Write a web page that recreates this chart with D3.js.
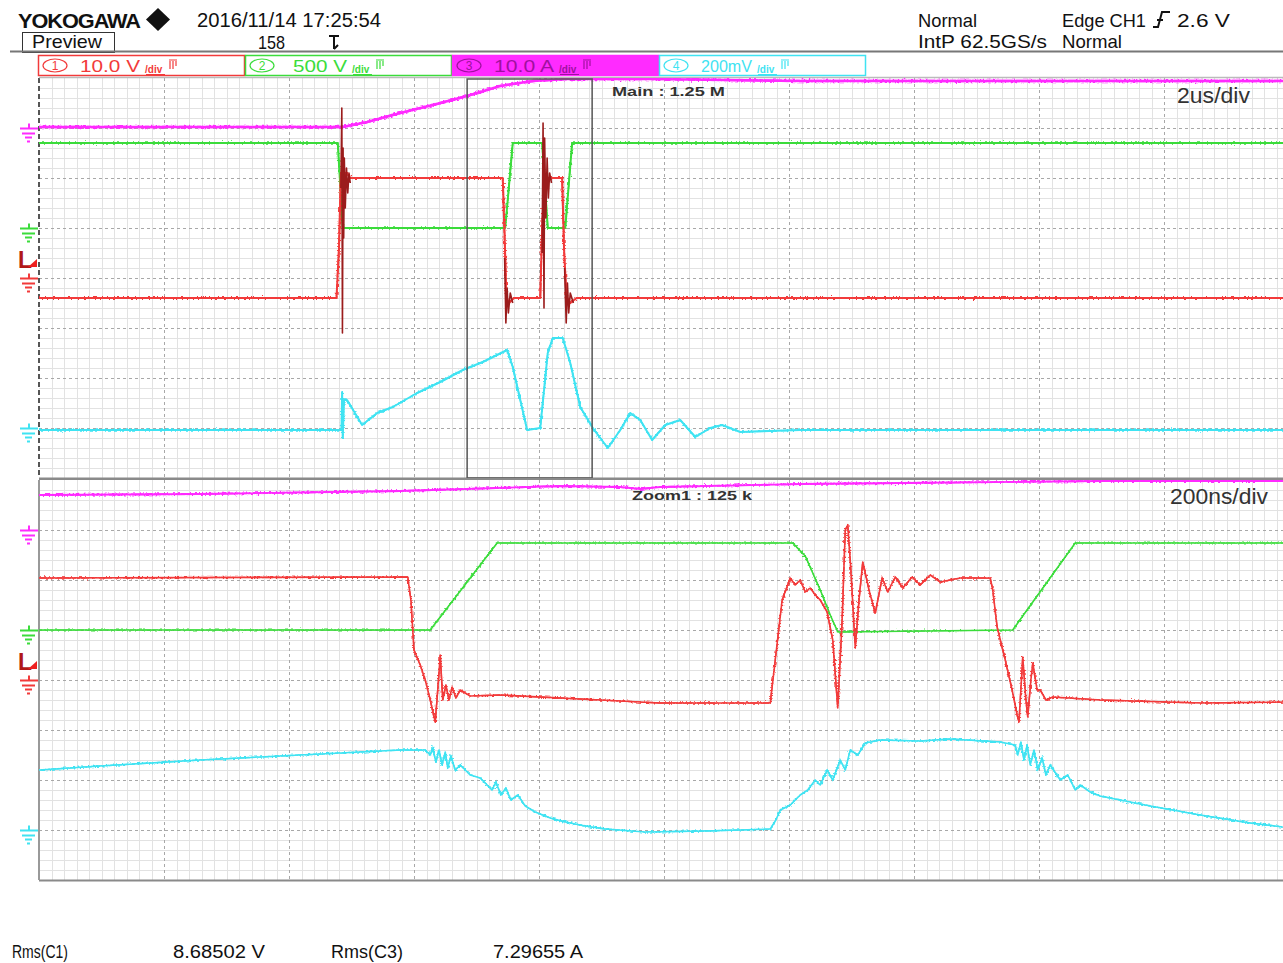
<!DOCTYPE html>
<html>
<head>
<meta charset="utf-8">
<script src="https://cdn.jsdelivr.net/npm/d3@7"></script>
<style>
  body { margin: 0; background: #fff; }
  svg { display: block; }
  text { font-family: "Liberation Sans Narrow", "Liberation Sans", Arial, sans-serif; }
</style>
</head>
<body>
<svg id="scope" width="1283" height="963"></svg>
<script>
// ---- channel setup ----
const channelIds     = ["1", "2", "3", "4"];
const channelScales  = ["10.0 V", "500 V", "10.0 A", "200mV"];
const channelPerDiv  = [10, 500, 10, 200];      // V, V, A, mV per division
const channelGround  = [0, 1, 3, -3];           // ground level, divisions above screen centre
const channelColors  = ["#f23a3a", "#3bdc3b", "#ff2bff", "#3fe3f2"];
const ringColor      = "#9b1c1c";
const triggerLevel   = 2.6;                     // V on CH1

// ---- main window (µs, 2 µs/div) ----
const mainTimeDomain = [0, 20];
const zoomStart = 6.85, zoomSpan = 2.0;         // µs

const mainCh1 = [[0,-4],[4.76,-4],[4.80,6],[4.83,21],[4.87,19],[4.92,21],[4.98,20],[7.42,20],[7.45,8],[7.48,-4],
  [7.52,-5],[7.60,-4],[8.02,-4],[8.05,10],[8.09,20],[8.37,20],[8.40,6],[8.44,-4],[8.50,-5],[8.60,-4],[20,-4]];
const mainCh1Ring = [
  [[4.83,18],[4.845,34],[4.855,-11],[4.865,26],[4.875,8],[4.885,24],[4.90,14],[4.92,22],[4.94,17],[4.96,21],[4.98,19]],
  [[7.45,4],[7.47,-9],[7.49,-2],[7.51,-7],[7.54,-3],[7.58,-5]],
  [[8.05,5],[8.065,31],[8.08,-6],[8.09,28],[8.11,12],[8.13,24],[8.15,16],[8.17,21],[8.20,19]],
  [[8.41,2],[8.435,-9],[8.455,-1],[8.475,-7],[8.50,-3],[8.55,-5]]
];
const mainCh2 = [[0,850],[4.78,850],[4.86,0],[7.46,0],[7.58,850],[8.05,850],[8.14,0],[8.42,0],[8.53,850],[20,850]];
const mainCh3 = [[0,0.2],[4.86,0.2],[5.25,1.2],[5.78,3.0],[6.30,4.6],[6.85,6.4],[7.38,8.4],[7.90,9.4],[8.45,9.8],
  [9.78,9.8],[12.2,9.4],[20,9.4]];
const mainCh4 = [[0,-8],[4.82,-8],[4.84,-8],[4.85,144],[4.86,-40],[4.88,112],[4.93,112],[5.17,12],[5.41,60],[5.66,84],
  [6.05,140],[6.42,184],[6.78,232],[7.10,264],[7.49,312],[7.58,244],[7.81,-8],[8.02,0],[8.14,300],[8.22,360],
  [8.38,360],[8.50,260],[8.66,84],[8.86,0],[9.10,-80],[9.30,-8],[9.46,60],[9.62,32],[9.81,-48],[10.02,12],
  [10.26,32],[10.50,-36],[10.74,0],[10.93,12],[11.22,-16],[12.18,-8],[20,-8]];

// ---- zoom window (ns from zoom start, 200 ns/div) ----
const zoomTimeDomain = [0, 2000];

const zoomCh1 = [[0,20.4],[590,20.6],[595,16],[600,6],[610,3],[618,0],[626,-4],[634,-8.4],[638,-2],[642,5],[646,-4],
  [651,-1],[656,-4],[661,-1.4],[667,-3.6],[674,-2],[690,-3.2],[738,-3],[898,-4],[994,-4.6],[1170,-4.6],[1178,4],
  [1189,16],[1202,20.4],[1210,19],[1218,20],[1226,17.6],[1234,18.4],[1242,17],[1250,16],[1261,13.6],[1270,8],
  [1278,-5.6],[1285,12],[1290,30],[1294,31],[1299,22],[1306,6.4],[1312,16],[1318,23.6],[1328,18],[1338,13.4],
  [1349,20.4],[1358,17.6],[1370,20.6],[1382,18.4],[1397,20.6],[1410,19],[1426,21],[1442,19.6],[1474,20.4],
  [1522,20.4],[1526,18],[1533,10.6],[1546,4],[1557,-2],[1565,-7],[1568,-8.4],[1574,4.6],[1579,-4],[1582,-7.4],
  [1587,0],[1590,3.4],[1597,-2],[1602,-2],[1611,-4],[1622,-3.4],[1698,-4],[1858,-4.6],[2000,-4.4]];
const zoomCh2 = [[0,0],[626,0],[733,870],[1206,870],[1226,740],[1250,400],[1266,150],[1278,-20],[1558,0],
  [1658,870],[2000,870]];
const zoomCh3 = [[0,7.0],[258,7.2],[578,7.8],[834,8.8],[930,8.6],[962,8.2],[994,8.6],[1218,9.2],[1378,9.4],
  [1698,9.8],[2000,9.8]];
const zoomCh4 = [[0,240],[98,256],[258,280],[418,300],[578,320],[618,320],[626,300],[630,328],[635,272],[640,320],
  [645,260],[650,312],[654,248],[659,296],[666,240],[674,260],[690,220],[706,208],[725,160],[731,192],[739,140],
  [747,168],[755,120],[766,140],[778,96],[794,72],[818,48],[842,32],[874,16],[906,4],[970,-8],[1066,-4],[1170,4],
  [1179,40],[1186,80],[1202,100],[1218,140],[1230,160],[1242,200],[1250,180],[1261,240],[1270,200],[1282,280],
  [1290,240],[1298,320],[1310,300],[1322,348],[1346,360],[1410,356],[1458,364],[1538,352],[1562,340],[1566,300],
  [1571,352],[1576,280],[1581,340],[1586,260],[1592,320],[1598,240],[1605,288],[1611,220],[1618,260],[1634,200],
  [1646,220],[1658,160],[1666,180],[1682,152],[1698,136],[1738,116],[1778,96],[1858,60],[1938,28],[1990,12]];

// ---- texts ----
const headerLeft  = ["YOKOGAWA", "2016/11/14  17:25:54", "Preview", "158"];
const headerRight = ["Normal", "Edge CH1", "2.6 V", "IntP 62.5GS/s", "Normal"];
const mainLabel = "Main : 1.25 M", mainRate = "2us/div";
const zoomLabel = "Zoom1 : 125 k", zoomRate = "200ns/div";
const measureNames  = ["Rms(C1)", "Rms(C3)"];
const measureValues = ["8.68502 V", "7.29655 A"];

// ---- geometry ----
const gridLeft = 39, divW = 125, divH = 50;
const panels = [
  { top: 78,  label: mainLabel, rate: mainRate, domain: mainTimeDomain },
  { top: 480, label: zoomLabel, rate: zoomRate, domain: zoomTimeDomain }
];
panels.forEach(p => {
  p.x = d3.scaleLinear().domain(p.domain).range([gridLeft, gridLeft + 10 * divW]);
  p.y = channelPerDiv.map((pd, i) =>
    d3.scaleLinear().domain([-(4 + channelGround[i]) * pd, (4 - channelGround[i]) * pd])
      .range([p.top + 8 * divH, p.top]));
});

const svg = d3.select("#scope");
const defs = svg.append("defs");

// acquisition noise texture for the traces
const jitter = defs.append("filter").attr("id", "jitter").attr("filterUnits", "userSpaceOnUse")
  .attr("x", 0).attr("y", 0).attr("width", 1283).attr("height", 963);
jitter.append("feTurbulence").attr("type", "fractalNoise").attr("baseFrequency", "0.45 0.6")
  .attr("numOctaves", 2).attr("seed", 4).attr("result", "noise");
jitter.append("feDisplacementMap").attr("in", "SourceGraphic").attr("in2", "noise")
  .attr("scale", 5).attr("xChannelSelector", "R").attr("yChannelSelector", "G");

// ---- header ----
const hdr = svg.append("g").attr("fill", "#111");
hdr.append("text").attr("x", 18).attr("y", 28).attr("font-size", 21).attr("font-weight", "bold")
  .attr("textLength", 122).attr("lengthAdjust", "spacingAndGlyphs").attr("letter-spacing", -1).text(headerLeft[0]);
hdr.append("path").attr("d", "M158,8 L170,19.5 L158,31 L146,19.5 Z");
hdr.append("text").attr("x", 197).attr("y", 27).attr("font-size", 20)
  .attr("textLength", 184).attr("lengthAdjust", "spacingAndGlyphs").text(headerLeft[1]);
hdr.append("rect").attr("x", 22.5).attr("y", 32.5).attr("width", 92).attr("height", 20)
  .attr("fill", "none").attr("stroke", "#333").attr("stroke-width", 1);
hdr.append("text").attr("x", 32).attr("y", 48).attr("font-size", 19)
  .attr("textLength", 70).attr("lengthAdjust", "spacingAndGlyphs").text(headerLeft[2]);
hdr.append("text").attr("x", 258).attr("y", 49).attr("font-size", 19)
  .attr("textLength", 27).attr("lengthAdjust", "spacingAndGlyphs").text(headerLeft[3]);
hdr.append("path").attr("d", "M329,36 H339 M334,36 V49 M334,49 L338,45")
  .attr("stroke", "#111").attr("stroke-width", 2).attr("fill", "none");

hdr.append("text").attr("x", 918).attr("y", 27).attr("font-size", 19)
  .attr("textLength", 59).attr("lengthAdjust", "spacingAndGlyphs").text(headerRight[0]);
hdr.append("text").attr("x", 1062).attr("y", 27).attr("font-size", 19)
  .attr("textLength", 84).attr("lengthAdjust", "spacingAndGlyphs").text(headerRight[1]);
hdr.append("path").attr("d", "M1153,27 H1158 L1162,12 H1170 M1157,20 H1163")
  .attr("stroke", "#111").attr("stroke-width", 2).attr("fill", "none");
hdr.append("text").attr("x", 1177).attr("y", 27).attr("font-size", 19)
  .attr("textLength", 53).attr("lengthAdjust", "spacingAndGlyphs").text(headerRight[2]);
hdr.append("text").attr("x", 918).attr("y", 48).attr("font-size", 19)
  .attr("textLength", 129).attr("lengthAdjust", "spacingAndGlyphs").text(headerRight[3]);
hdr.append("text").attr("x", 1062).attr("y", 48).attr("font-size", 19)
  .attr("textLength", 60).attr("lengthAdjust", "spacingAndGlyphs").text(headerRight[4]);

svg.append("line").attr("x1", 10).attr("x2", 1283).attr("y1", 51.5).attr("y2", 51.5)
  .attr("stroke", "#777").attr("stroke-width", 2);

// ---- channel bar ----
const boxW = 207;
channelIds.forEach((id, i) => {
  const x0 = 38 + i * boxW, col = channelColors[i], filled = i === 2;
  const txtCol = filled ? "#a010a0" : col;
  const g = svg.append("g").attr("transform", `translate(${x0},55)`);
  g.append("rect").attr("x", 0.5).attr("y", 0.5).attr("width", boxW - 1).attr("height", 20)
    .attr("fill", filled ? col : "#fff").attr("stroke", col).attr("stroke-width", 1.5);
  g.append("ellipse").attr("cx", 17).attr("cy", 10.5).attr("rx", 12).attr("ry", 6.5)
    .attr("fill", "none").attr("stroke", txtCol).attr("stroke-width", 1.2);
  g.append("text").attr("x", 17).attr("y", 15).attr("font-size", 12).attr("text-anchor", "middle")
    .attr("fill", txtCol).text(id);
  const sx0 = i === 1 ? 48 : 42;
  const scaleW = i === 3 ? 51 : (i === 1 ? 54 : 60);
  g.append("text").attr("x", sx0).attr("y", 17).attr("font-size", 17).attr("fill", txtCol)
    .attr("textLength", scaleW).attr("lengthAdjust", "spacingAndGlyphs").text(channelScales[i]);
  const sx = sx0 + scaleW + 5;
  g.append("text").attr("x", sx).attr("y", 18).attr("font-size", 10).attr("fill", txtCol)
    .attr("font-weight", "bold").text("/div");
  g.append("path").attr("d", `M${sx + 1},19.5 H${sx + 20} M${sx + 24},5 H${sx + 32} M${sx + 25},6 V14 M${sx + 28},6 V14 M${sx + 31},6 V11`)
    .attr("stroke", txtCol).attr("stroke-width", 1.2).attr("fill", "none");
});

// ---- panels ----
panels.forEach((p, pi) => {
  const g = svg.append("g");
  const right = gridLeft + 10 * divW, bottom = p.top + 8 * divH;
  const clipId = "clip" + pi;
  defs.append("clipPath").attr("id", clipId).append("rect")
    .attr("x", gridLeft).attr("y", p.top).attr("width", 10 * divW).attr("height", 8 * divH);

  // fine grid: 10 ticks per time division, 5 per vertical division
  const t0 = p.domain[0], t1 = p.domain[1], step = (t1 - t0) / 100;
  const vMinor = d3.range(0, 101).filter(k => k % 10 !== 0).map(k => p.x(t0 + k * step));
  const vMajor = d3.range(1, 10).map(k => p.x(t0 + k * step * 10));
  const hMinor = d3.range(1, 40).filter(k => k % 5 !== 0).map(k => p.top + k * divH / 5);
  const hMajor = d3.range(1, 8).map(k => p.top + k * divH);

  g.selectAll(null).data(vMinor).join("line")
    .attr("x1", d => Math.round(d) + 0.5).attr("x2", d => Math.round(d) + 0.5)
    .attr("y1", p.top).attr("y2", bottom).attr("stroke", "#e2e2e2");
  g.selectAll(null).data(hMinor).join("line")
    .attr("y1", d => d + 0.5).attr("y2", d => d + 0.5)
    .attr("x1", gridLeft).attr("x2", right).attr("stroke", "#e2e2e2");
  g.selectAll(null).data(vMajor).join("line")
    .attr("x1", d => Math.round(d) + 0.5).attr("x2", d => Math.round(d) + 0.5)
    .attr("y1", p.top).attr("y2", bottom).attr("stroke", "#a8a8a8").attr("stroke-dasharray", "3,3");
  g.selectAll(null).data(hMajor).join("line")
    .attr("y1", d => d + 0.5).attr("y2", d => d + 0.5)
    .attr("x1", gridLeft).attr("x2", right).attr("stroke", "#a8a8a8").attr("stroke-dasharray", "3,3");

  // frame
  g.append("line").attr("x1", gridLeft).attr("x2", right).attr("y1", bottom + 0.5).attr("y2", bottom + 0.5)
    .attr("stroke", "#8a8a8a").attr("stroke-width", 2);
  g.append("line").attr("x1", gridLeft).attr("x2", gridLeft).attr("y1", p.top).attr("y2", bottom)
    .attr("stroke", pi === 0 ? "#555" : "#999").attr("stroke-width", 2)
    .attr("stroke-dasharray", pi === 0 ? "5,3" : null);
  if (pi === 0) {
    g.append("line").attr("x1", gridLeft).attr("x2", right).attr("y1", p.top - 0.5).attr("y2", p.top - 0.5)
      .attr("stroke", "#bbb").attr("stroke-width", 1.5);
  }

  // labels
  g.append("text").attr("x", pi === 0 ? 612 : 632).attr("y", p.top + (pi === 0 ? 18 : 20)).attr("font-size", 13)
    .attr("font-weight", "bold").attr("fill", "#333").attr("textLength", pi === 0 ? 113 : 120)
    .attr("lengthAdjust", "spacingAndGlyphs").text(p.label);
  g.append("text").attr("x", pi === 0 ? 1177 : 1170).attr("y", p.top + (pi === 0 ? 25 : 24)).attr("font-size", 22)
    .attr("fill", "#333").attr("textLength", pi === 0 ? 73 : 98)
    .attr("lengthAdjust", "spacingAndGlyphs").text(p.rate);

  // ground markers
  [2, 1, 0, 3].forEach(i => {
    const gy = Math.round(p.y[i](0)) + 0.5, col = channelColors[i];
    g.append("path")
      .attr("d", `M20,${gy} H38 M29,${gy - 5} V${gy} M22,${gy + 5} H35 M25,${gy + 9} H32 M27,${gy + 13} H30`)
      .attr("stroke", col).attr("stroke-width", 2).attr("fill", "none");
  });
  // trigger level marker (CH1)
  const ty = p.y[0](triggerLevel);
  g.append("text").attr("x", 18).attr("y", ty + 3).attr("font-size", 23).attr("font-weight", "bold")
    .attr("font-family", "Liberation Serif, serif").attr("fill", "#b01818").text("L");
  g.append("path").attr("d", `M28,${ty + 2} L37,${ty + 2} L37,${ty - 6} Z`).attr("fill", "#ee2020");

  p.g = g.append("g").attr("clip-path", `url(#${clipId})`);
});

// ---- traces ----
function drawTrace(p, data, ch, color, width, noisy) {
  const line = d3.line().x(d => p.x(d[0])).y(d => p.y[ch](d[1]));
  p.g.append("path").attr("d", line(data)).attr("fill", "none")
    .attr("stroke", color).attr("stroke-width", width).attr("stroke-linejoin", "round");
  if (noisy) {
    p.g.append("path").attr("d", line(data)).attr("fill", "none")
      .attr("stroke", color).attr("stroke-width", noisy).attr("filter", "url(#jitter)");
  }
}

const [mainP, zoomP] = panels;
drawTrace(mainP, mainCh3, 2, channelColors[2], 2.5, 2.5);
drawTrace(mainP, mainCh2, 1, channelColors[1], 2, 1.5);
drawTrace(mainP, mainCh1, 0, channelColors[0], 2, 1.8);
mainCh1Ring.forEach(b => drawTrace(mainP, b, 0, ringColor, 1.6, 0));
drawTrace(mainP, mainCh4, 3, channelColors[3], 2, 1.5);

drawTrace(zoomP, zoomCh3, 2, channelColors[2], 1.8, 1.8);
drawTrace(zoomP, zoomCh2, 1, channelColors[1], 1.6, 1.2);
drawTrace(zoomP, zoomCh1, 0, channelColors[0], 1.6, 1.4);
drawTrace(zoomP, zoomCh4, 3, channelColors[3], 1.6, 1.4);

// zoom window outline in the main panel
mainP.g.append("rect")
  .attr("x", mainP.x(zoomStart)).attr("y", mainP.top + 1)
  .attr("width", mainP.x(zoomStart + zoomSpan) - mainP.x(zoomStart)).attr("height", 8 * divH - 1)
  .attr("fill", "none").attr("stroke", "#555").attr("stroke-width", 1.5);

// panel separator
svg.append("line").attr("x1", gridLeft).attr("x2", 1283).attr("y1", 479).attr("y2", 479)
  .attr("stroke", "#8a8a8a").attr("stroke-width", 2);

// ---- measurements ----
const meas = svg.append("g").attr("fill", "#111").attr("font-size", 18);
const mx = [[12, 56, 173, 92], [331, 72, 493, 90]];
measureNames.forEach((n, i) => {
  meas.append("text").attr("x", mx[i][0]).attr("y", 958).attr("textLength", mx[i][1])
    .attr("lengthAdjust", "spacingAndGlyphs").text(n);
  meas.append("text").attr("x", mx[i][2]).attr("y", 958).attr("textLength", mx[i][3])
    .attr("lengthAdjust", "spacingAndGlyphs").text(measureValues[i]);
});
</script>
</body>
</html>
